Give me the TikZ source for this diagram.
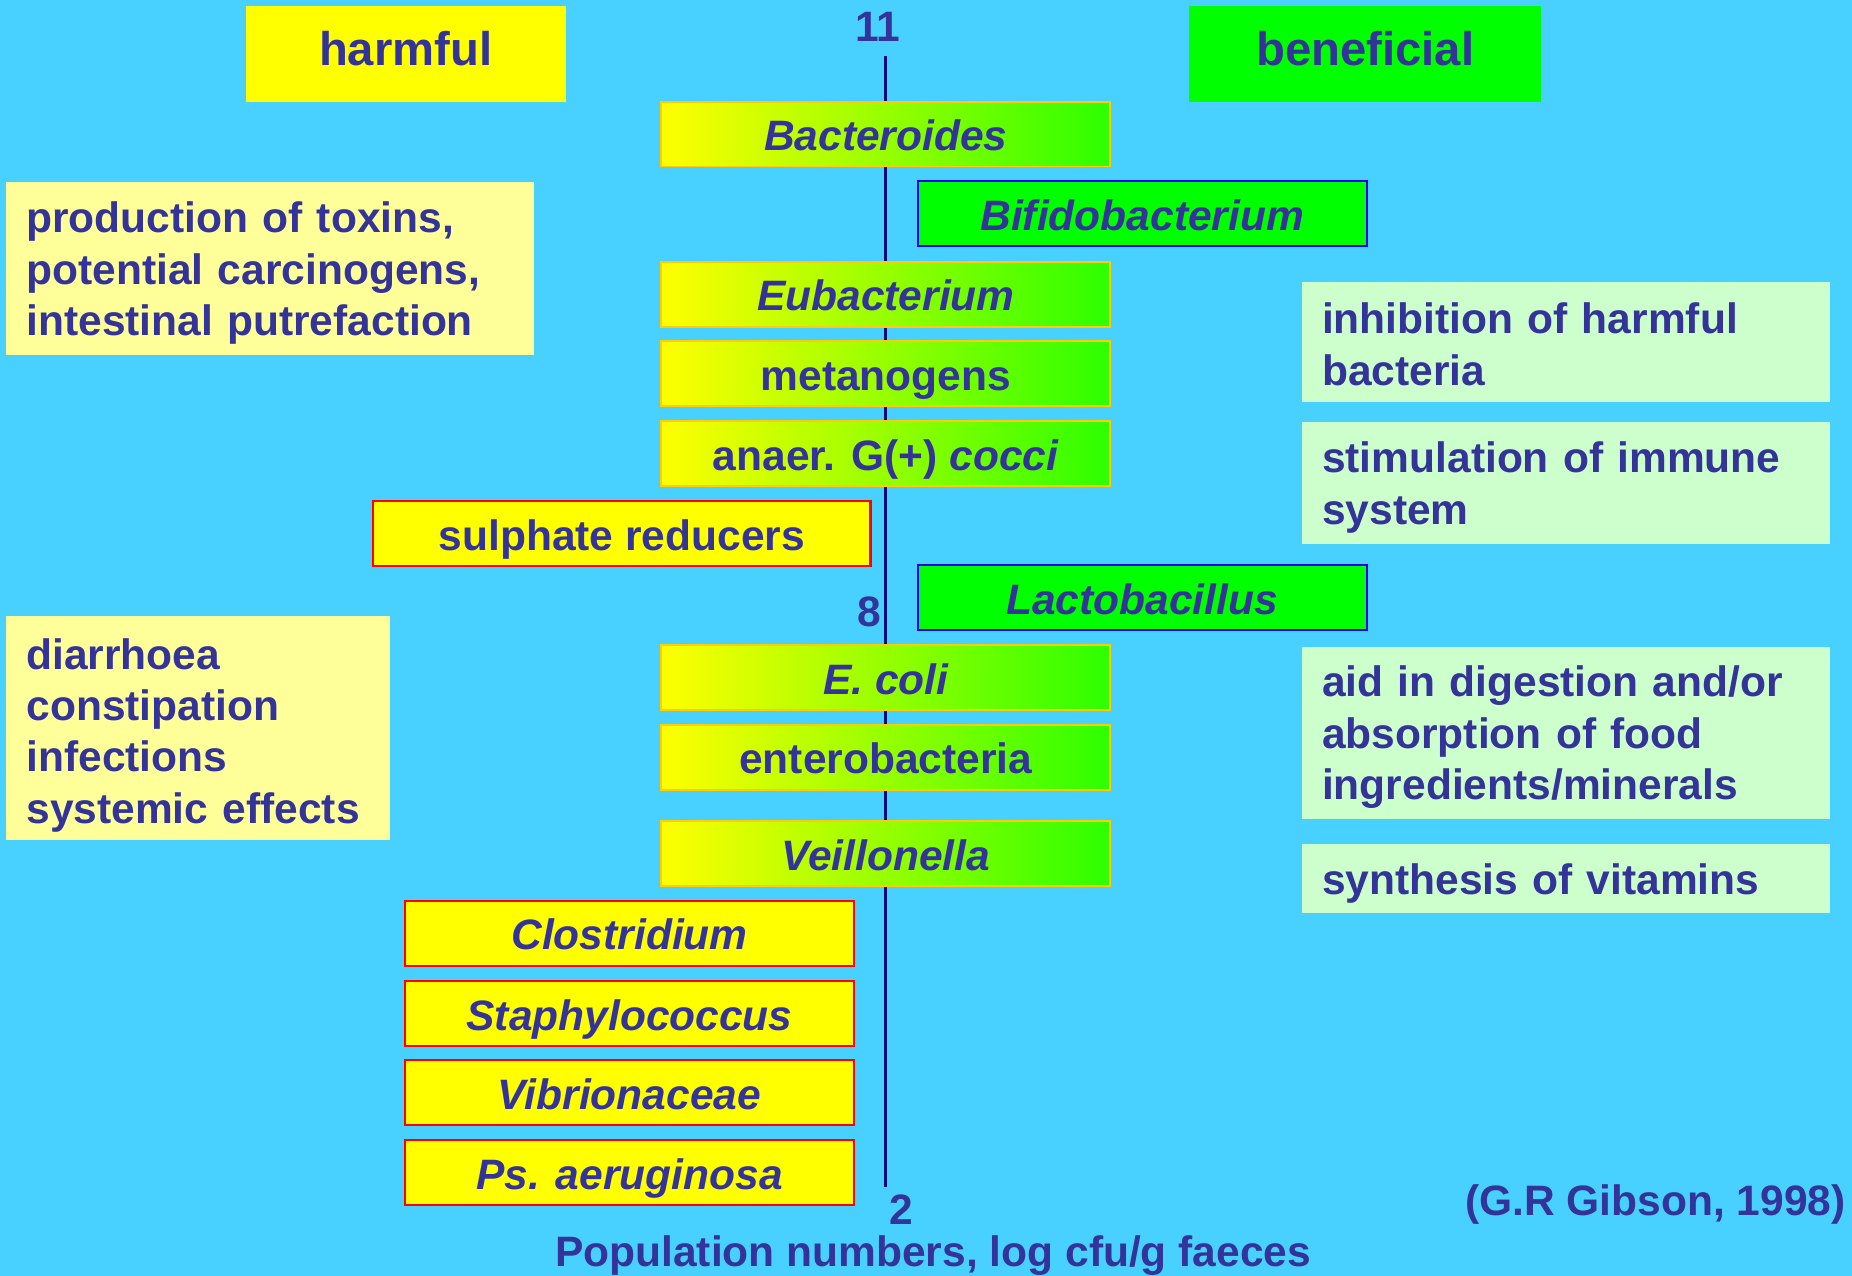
\documentclass[tikz,border=0pt]{standalone}
\usepackage{fontspec}
\setmainfont{Liberation Sans}
\definecolor{bgblue}{RGB}{72,209,255}
\definecolor{ink}{RGB}{51,51,153}
\definecolor{goldline}{RGB}{255,204,0}
\definecolor{gradend}{RGB}{45,255,0}
\definecolor{pureyellow}{RGB}{255,255,0}
\definecolor{puregreen}{RGB}{0,255,0}
\definecolor{paleyellow}{RGB}{255,255,153}
\definecolor{palegreen}{RGB}{204,255,204}
\definecolor{axisnavy}{RGB}{10,10,130}
\definecolor{redline}{RGB}{255,0,0}
\definecolor{blueline}{RGB}{0,0,255}
% taller first line so that note text sits a little lower in its box
\newcommand{\leadstrut}{\rule{0pt}{17pt}}
\begin{document}
\begin{tikzpicture}[x=0.5pt,y=-0.5pt,
  txt/.style={text=ink, font=\bfseries\fontsize{18}{21.75}\selectfont, inner sep=0pt},
  bar/.style={txt, minimum width=190pt, minimum height=27.5pt, text height=14.3pt, text depth=0pt},
  gradbar/.style={bar, draw=goldline, line width=0.8pt, left color=pureyellow, right color=gradend},
  goodbar/.style={bar, draw=blueline, line width=0.9pt, fill=puregreen},
  badbar/.style={bar, draw=redline, line width=0.9pt, fill=pureyellow},
  header/.style={txt, font=\bfseries\fontsize{20}{24}\selectfont, minimum height=40.5pt, text height=14.4pt, text depth=4.8pt},
  note/.style={txt, align=left, anchor=north west, inner xsep=8.5pt, inner ysep=0pt},
  harmnote/.style={note, fill=paleyellow},
  goodnote/.style={note, fill=palegreen, text width=206.5pt, minimum width=223.5pt},
  ticklabel/.style={txt}
]
% background and page size
\fill[bgblue] (0,0) rectangle (1568,1080);
\useasboundingbox (0,0) rectangle (1568,1080);

% population axis
\coordinate (axtop) at (750,47);
\coordinate (axbot) at (750,1005);
\draw[axisnavy, line width=1.3pt] (axtop) -- (axbot);
\node[ticklabel] (t11) at (743,23) {11};
\node[ticklabel] (t8) at (736,518) {8};
\node[ticklabel] (t2) at (763,1024) {2};

% column headers
\node[header, fill=pureyellow, minimum width=135.5pt] (harm) at (343.5,45.5) {harmful};
\node[header, fill=puregreen, minimum width=149pt] (benef) at (1156,45.5) {beneficial};

% groups with both effects
\node[gradbar] (bact) at (750,113.5) {\itshape Bacteroides};
\node[gradbar] (eubact) at (750,249) {\itshape Eubacterium};
\node[gradbar] (metano) at (750,316) {metanogens};
\node[gradbar] (cocci) at (750,384) {anaer. G(+) \textit{cocci}};
\node[gradbar] (ecoli) at (750,573.5) {\itshape E. coli};
\node[gradbar] (entero) at (750,641) {enterobacteria};
\node[gradbar] (veill) at (750,722.5) {\itshape Veillonella};

% beneficial groups
\node[goodbar] (bifido) at (967,181) {\itshape Bifidobacterium};
\node[goodbar] (lacto) at (967,506) {\itshape Lactobacillus};

% harmful groups
\node[badbar, minimum width=210.5pt] (sulph) at (526.5,451.5) {sulphate reducers};
\node[badbar] (clost) at (533,790) {\itshape Clostridium};
\node[badbar] (staph) at (533,858) {\itshape Staphylococcus};
\node[badbar] (vibrio) at (533,925) {\itshape Vibrionaceae};
\node[badbar] (pseudo) at (533,993) {\itshape Ps. aeruginosa};

% harmful effects
\node[harmnote, text width=206.5pt, minimum width=223.5pt, minimum height=73pt] (toxins) at (5,154)
  {\leadstrut production of toxins,\\potential carcinogens,\\intestinal putrefaction};
\node[harmnote, text width=145.5pt, minimum width=162.5pt, minimum height=95pt] (diarr) at (5,521)
  {\rule{0pt}{19pt}diarrhoea\\constipation\\infections\\systemic effects};

% beneficial effects
\node[goodnote, minimum height=51pt] (inhib) at (1102,238) {\rule{0pt}{15pt}inhibition of harmful\\bacteria};
\node[goodnote, minimum height=51.5pt] (immune) at (1102,357) {\leadstrut stimulation of immune\\system};
\node[goodnote, minimum height=73pt] (digest) at (1102,547)
  {\leadstrut aid in digestion and/or\\absorption of food\\ingredients/minerals};
\node[goodnote, minimum height=29.5pt] (vitam) at (1102,714) {\leadstrut synthesis of vitamins};

% axis title and source
\node[txt] (poplabel) at (790,1063) {Population numbers, log cfu/g faeces};
\node[txt, anchor=east] (cite) at (1563,1020) {(G.R Gibson, 1998)};
\end{tikzpicture}
\end{document}
